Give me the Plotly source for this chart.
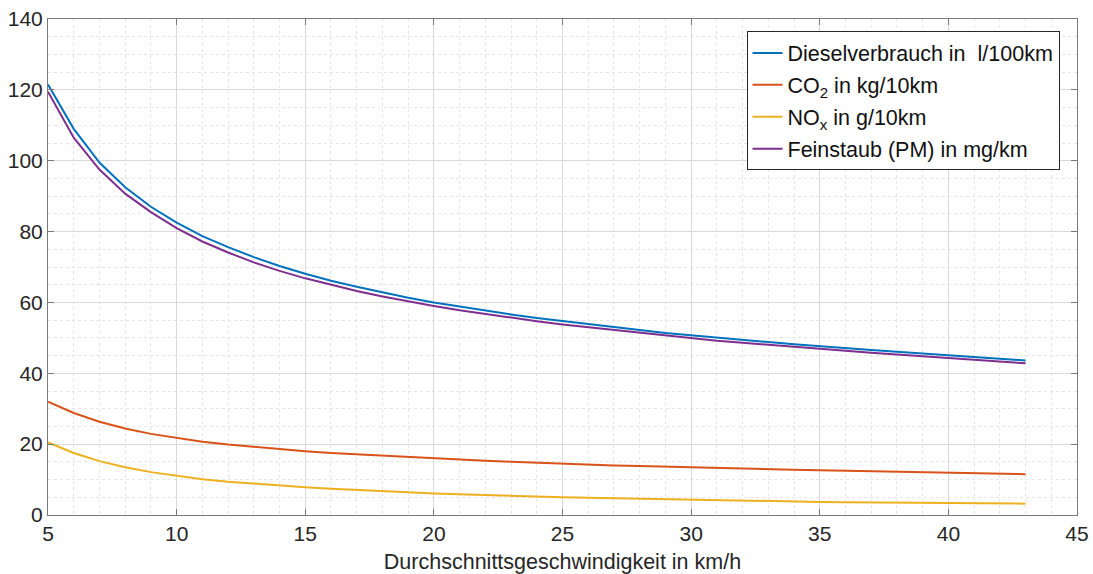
import plotly.graph_objects as go

speed = list(range(5, 44))

diesel = [121.5, 109.0, 99.5, 92.5, 87.0, 82.5, 78.7, 75.6, 72.8, 70.3, 68.1, 66.1, 64.4, 62.8,
          61.3, 60.0, 58.8, 57.7, 56.6, 55.6, 54.7, 53.8, 53.0, 52.2, 51.4, 50.7, 50.0, 49.4,
          48.8, 48.2, 47.6, 47.1, 46.6, 46.1, 45.6, 45.1, 44.6, 44.1, 43.6]
co2 = [32.0, 28.8, 26.3, 24.4, 22.9, 21.7, 20.7, 19.9, 19.2, 18.6, 18.0, 17.5, 17.1, 16.7,
       16.3, 15.9, 15.6, 15.3, 15.0, 14.7, 14.45, 14.2, 14.0, 13.8, 13.6, 13.4, 13.25, 13.1,
       12.95, 12.8, 12.65, 12.5, 12.35, 12.2, 12.05, 11.9, 11.75, 11.6, 11.5]
nox = [20.5, 17.5, 15.2, 13.5, 12.1, 11.0, 10.1, 9.4, 8.8, 8.3, 7.8, 7.4, 7.0, 6.7,
       6.4, 6.1, 5.85, 5.6, 5.4, 5.2, 5.0, 4.85, 4.7, 4.55, 4.4, 4.25, 4.1, 4.0,
       3.9, 3.8, 3.7, 3.6, 3.55, 3.5, 3.45, 3.4, 3.3, 3.25, 3.2]
pm = [119.5, 106.5, 97.5, 90.7, 85.5, 81.0, 77.2, 74.1, 71.3, 68.9, 66.8, 64.9, 63.2, 61.7,
      60.3, 59.0, 57.8, 56.7, 55.7, 54.7, 53.8, 53.0, 52.2, 51.4, 50.6, 49.9, 49.2, 48.6,
      48.0, 47.4, 46.8, 46.3, 45.8, 45.3, 44.8, 44.3, 43.8, 43.3, 42.8]

names = ["Dieselverbrauch in  l/100km", "CO<sub>2</sub> in kg/10km",
         "NO<sub>x</sub> in g/10km", "Feinstaub (PM) in mg/km"]
series = [diesel, co2, nox, pm]
colors = ["#0072BD", "#D95319", "#EDB120", "#7E2F8E"]

font = "Liberation Sans, Arial, sans-serif"

fig = go.Figure()
for i, (n, s, c) in enumerate(zip(names, series, colors)):
    fig.add_trace(go.Scatter(x=speed, y=s, mode="lines", name=n,
                             line=dict(color=c, width=2), legendgroup=str(i)))

axis_common = dict(
    showgrid=True, gridcolor="#d9d9d9", gridwidth=1,
    showline=True, linecolor="#7a7a7a", linewidth=1, mirror="ticks",
    ticks="inside", ticklen=6, tickcolor="#7a7a7a",
    zeroline=False, automargin=False,
    tickfont=dict(family=font, size=21, color="#262626"),
)

fig.update_xaxes(range=[5, 45], dtick=5, tick0=5,
                 minor=dict(dtick=1, showgrid=True, gridcolor="#e6e6e6", griddash="dot",
                            ticks=""),
                 title=dict(text="Durchschnittsgeschwindigkeit in km/h",
                            font=dict(family=font, size=21.5, color="#262626"), standoff=9),
                 **axis_common)
fig.update_yaxes(range=[0, 140], dtick=20, tick0=0,
                 minor=dict(dtick=5, showgrid=True, gridcolor="#e6e6e6", griddash="dot",
                            ticks=""),
                 **axis_common)

fig.update_layout(
    width=1093, height=574,
    margin=dict(l=48, r=16, t=19, b=59),
    paper_bgcolor="white", plot_bgcolor="white",
    font=dict(family=font, size=21, color="#262626"),
    showlegend=True,
    legend=dict(x=0.983, y=0.975, xanchor="right", yanchor="top",
                bgcolor="white", bordercolor="#262626", borderwidth=1,
                font=dict(family=font, size=21.5, color="#111111"),
                tracegroupgap=1, itemwidth=30),
)

fig.write_html("out.html")
